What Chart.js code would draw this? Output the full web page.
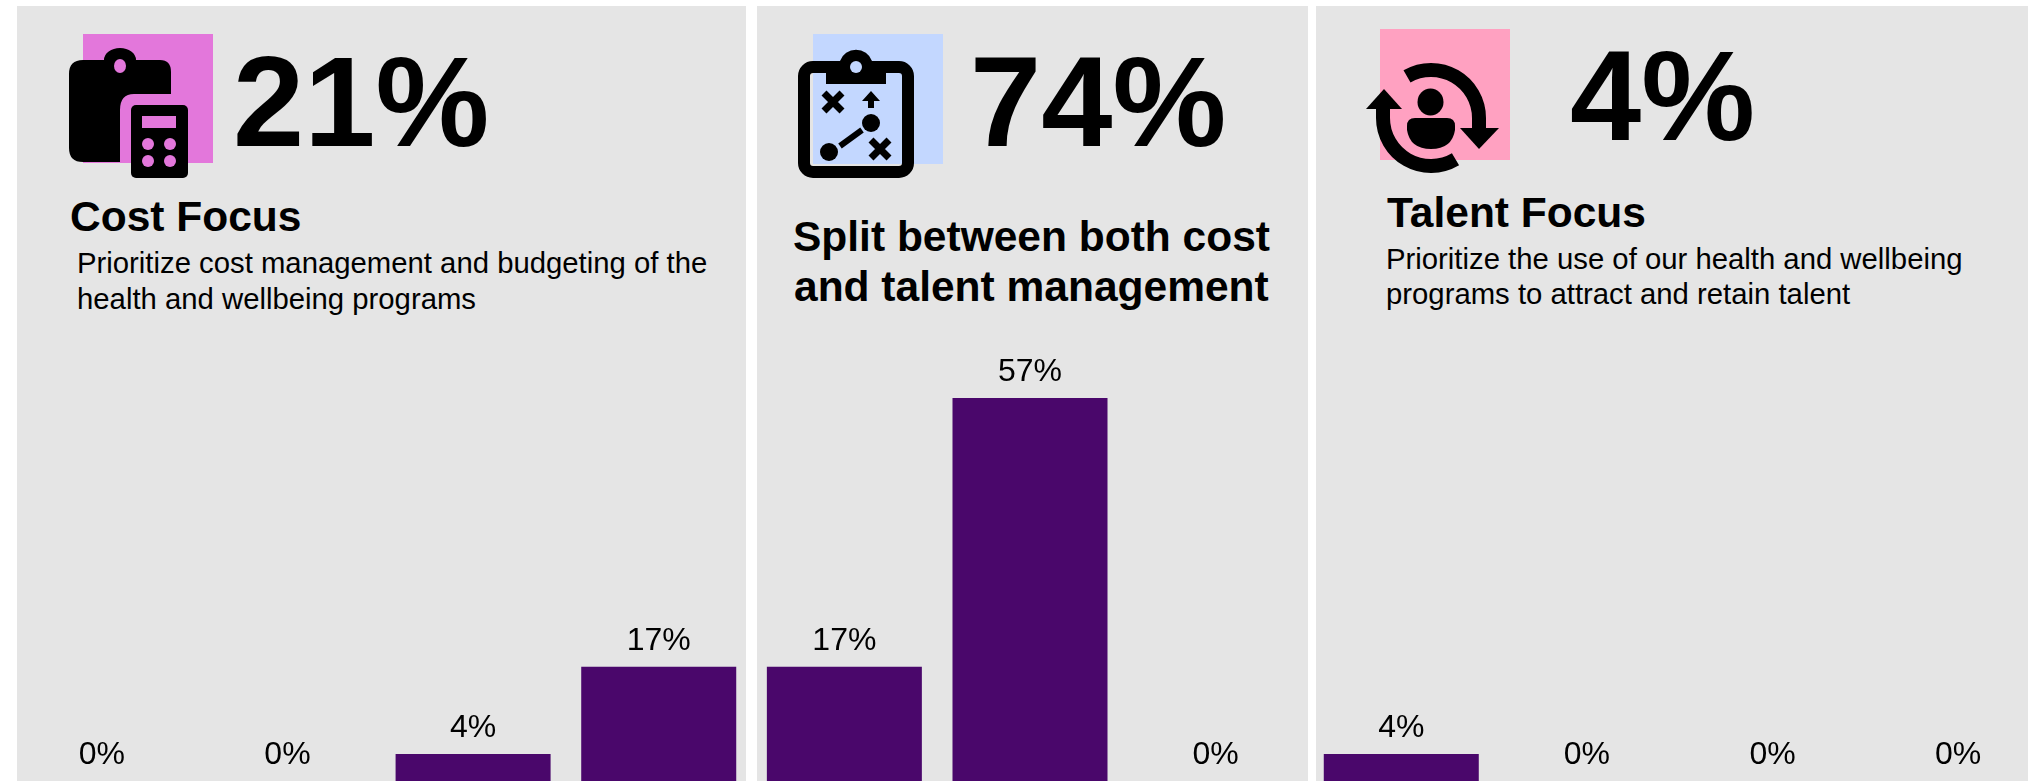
<!DOCTYPE html>
<html>
<head>
<meta charset="utf-8">
<title>Health and wellbeing program focus</title>
<script src="https://cdn.jsdelivr.net/npm/chart.js@4"></script>
<style>
  html, body { margin: 0; padding: 0; background: #fff; }
  body { position: relative; width: 2028px; height: 781px; overflow: hidden; font-family: "Liberation Sans", Arial, sans-serif; color: #000; }
  .panel { position: absolute; top: 6px; height: 775px; background: #e5e5e5; }
  #icons { position: absolute; left: 0; top: 0; }
  #myChart { position: absolute; left: 9px; top: 0; }
  .txt { position: absolute; white-space: nowrap; line-height: 1; }
  .big { font-size: 128px; font-weight: bold; }
  .head { font-size: 42.5px; font-weight: bold; }
  .body { font-size: 29.3px; }
</style>
</head>
<body>
<div class="panel" style="left:17px;width:729px"></div>
<div class="panel" style="left:757px;width:551px"></div>
<div class="panel" style="left:1316px;width:712px"></div>

<svg id="icons" width="2028" height="781">
  <!-- clipboard with calculator -->
  <rect x="83" y="34" width="130" height="129" fill="#e377db"/>
  <path d="M83 60 H104 A16 12 0 0 1 136 60 H160 Q171 60 171 72 V94 H134 Q120 94 120 110 V162 H83 Q69 162 69 148 V74 Q69 60 83 60 Z" fill="#000"/>
  <ellipse cx="120" cy="66" rx="6" ry="7" fill="#e377db"/>
  <rect x="131" y="105" width="57" height="73" rx="5" fill="#000"/>
  <rect x="142" y="116" width="34" height="12" fill="#e377db"/>
  <g fill="#e377db">
    <ellipse cx="148" cy="144" rx="6" ry="6"/><ellipse cx="170" cy="144" rx="6" ry="6"/>
    <ellipse cx="148" cy="161" rx="6" ry="6"/><ellipse cx="170" cy="161" rx="6" ry="6"/>
  </g>

  <!-- clipboard with play diagram -->
  <rect x="813" y="34" width="130" height="130" fill="#c3d7ff"/>
  <rect x="804" y="67" width="104" height="105" rx="9" fill="none" stroke="#000" stroke-width="12"/>
  <path d="M826 61 H840 A17 17 0 0 1 872 61 H886 V84 H826 Z" fill="#000"/>
  <circle cx="856" cy="67" r="6" fill="#c3d7ff"/>
  <path d="M824 93 L842 111 M842 93 L824 111 M871 140 L889 158 M889 140 L871 158" stroke="#000" stroke-width="7" fill="none"/>
  <path d="M871 91 L880 101 H874 V108 H868 V101 H862 Z" fill="#000"/>
  <circle cx="871" cy="123" r="9" fill="#000"/>
  <circle cx="829" cy="152" r="9" fill="#000"/>
  <path d="M840 146 L862 130" stroke="#000" stroke-width="6" fill="none"/>

  <!-- person inside rotating arrows -->
  <rect x="1380" y="29" width="130" height="131" fill="#ffa1c1"/>
  <path d="M1407 76.4 A48 48 0 0 1 1479 118 V128" fill="none" stroke="#000" stroke-width="14"/>
  <path d="M1455.5 159.3 A48 48 0 0 1 1383 118 V108" fill="none" stroke="#000" stroke-width="14"/>
  <path d="M1460 128 H1499 L1479 149 Z" fill="#000"/>
  <path d="M1366 109 H1402 L1384 89 Z" fill="#000"/>
  <ellipse cx="1430.5" cy="102" rx="13" ry="13.5" fill="#000"/>
  <path d="M1415 118 H1447 Q1455 118 1455 126 V130 Q1452 149 1431 149 Q1410 149 1407 130 V126 Q1407 118 1415 118 Z" fill="#000"/>
</svg>

<span class="txt big" style="left:233px;top:37.5px">21%</span>
<span class="txt big" style="left:970px;top:37.5px">74%</span>
<span class="txt big" style="left:1570px;top:32px">4%</span>

<span class="txt head" style="left:70px;top:196px">Cost Focus</span>
<span class="txt body" style="left:77px;top:248px">Prioritize cost management and budgeting of the</span>
<span class="txt body" style="left:77px;top:283.5px">health and wellbeing programs</span>

<span class="txt head" style="left:793px;top:216px">Split between both cost</span>
<span class="txt head" style="left:794px;top:266px">and talent management</span>

<span class="txt head" style="left:1387px;top:192px">Talent Focus</span>
<span class="txt body" style="left:1386px;top:243.5px">Prioritize the use of our health and wellbeing</span>
<span class="txt body" style="left:1386px;top:278.5px">programs to attract and retain talent</span>

<canvas id="myChart" width="2042" height="781"></canvas>

<script>
const categories = ['1', '2', '3', '4', '5', '6', '7', '8', '9', '10', '11'];
const shares = [0, 0, 4, 17, 17, 57, 0, 4, 0, 0, 0];
const axisMax = 116.2;

// percent labels above every bar, zero bars included
const barLabels = {
  id: 'barLabels',
  afterDatasetsDraw(chart) {
    const { ctx } = chart;
    ctx.save();
    ctx.font = '32px "Liberation Sans", Arial, sans-serif';
    ctx.fillStyle = '#000';
    ctx.textAlign = 'center';
    ctx.textBaseline = 'alphabetic';
    chart.getDatasetMeta(0).data.forEach((bar, i) => {
      ctx.fillText(shares[i] + '%', bar.x, bar.y - 17);
    });
    ctx.restore();
  }
};

new Chart(document.getElementById('myChart'), {
  type: 'bar',
  data: {
    labels: categories,
    datasets: [{
      data: shares,
      backgroundColor: '#4a076b',
      barPercentage: 0.835,
      categoryPercentage: 1
    }]
  },
  options: {
    responsive: false,
    animation: false,
    layout: { padding: 0 },
    scales: {
      x: { display: false },
      y: { display: false, min: 0, max: axisMax }
    },
    plugins: {
      legend: { display: false },
      tooltip: { enabled: false }
    }
  },
  plugins: [barLabels]
});
</script>
</body>
</html>
